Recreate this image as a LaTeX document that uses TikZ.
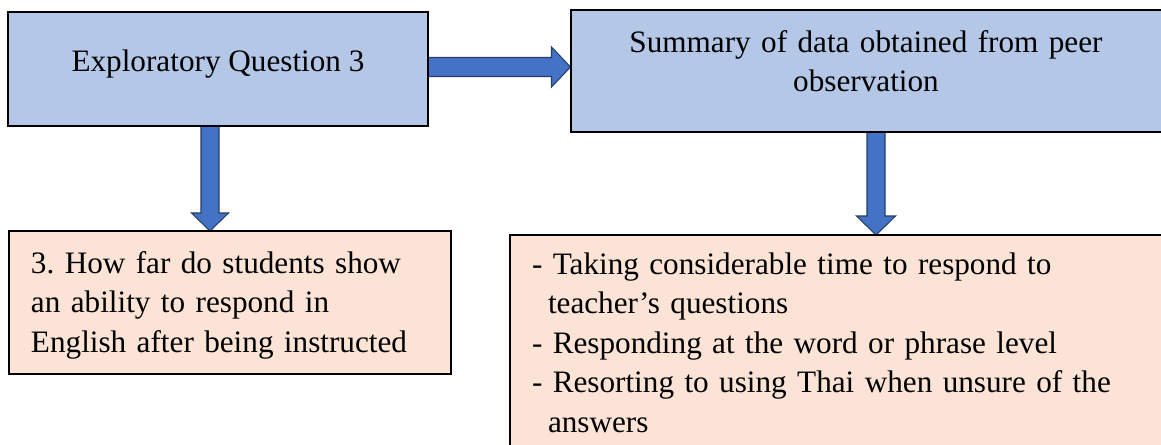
\documentclass[tikz,border=0pt]{standalone}
\usepackage{fontspec}
\setmainfont{Liberation Serif}
\usetikzlibrary{fit,calc,backgrounds}
\definecolor{boxblue}{HTML}{B4C7E7}
\definecolor{boxpeach}{HTML}{FBE3D6}
\definecolor{arrowfill}{HTML}{4472C4}
\definecolor{arrowline}{HTML}{233F6B}
\frenchspacing
\tikzset{
  box/.style={draw=black, line width=1.5pt, inner sep=0pt, outer sep=0pt},
  bluebox/.style={box, fill=boxblue},
  peachbox/.style={box, fill=boxpeach},
  labeltext/.style={font=\fontsize{23.4}{29.7}\selectfont, inner sep=0pt, outer sep=0pt},
  blockarrow/.style={fill=arrowfill, draw=arrowline, line width=0.8pt, line join=miter},
}
\begin{document}
\begin{tikzpicture}[x=0.75pt, y=-0.75pt]
  \path[use as bounding box] (0,0) rectangle (1161,444);
  \clip (0,0) rectangle (1161,444);

  % boxes
  \node[bluebox,  fit={(7.7,11.7) (428.3,126)}] (q) {};
  \node[bluebox,  fit={(570.5,10) (1175,132)}]  (s) {};
  \node[peachbox, fit={(8.5,231) (451,374)}]    (h) {};
  \node[peachbox, fit={(510,235) (1175,460)}]   (f) {};

  % texts
  \node[labeltext, anchor=base] (qtext) at (218,71) {Exploratory Question 3};
  \node[labeltext, anchor=base, text width=420pt, align=center] (stext) at (866,52)
    {Summary of data obtained from peer\\observation};
  \node[labeltext, anchor=base west, text width=420pt, align=left] (htext) at (31,273)
    {3. How far do students show\\an ability to respond in\\English after being instructed};
  \node[labeltext, anchor=base west, text width=480pt, align=left] (ftext) at (532,274)
    {- Taking considerable time to respond to\\
     \hspace*{12pt}teacher’s questions\\
     - Responding at the word or phrase level\\
     - Resorting to using Thai when unsure of the\\
     \hspace*{12pt}answers};

  % block arrows, drawn behind the boxes
  \begin{scope}[on background layer]
    % right arrow q -> s
    \coordinate (r0) at (q.east |- 0,67);
    \coordinate (r1) at (s.west |- 0,67);
    \draw[blockarrow] ($(r0)+(-2,-9.5)$) -- ($(r1)+(-19,-9.5)$) -- ($(r1)+(-19,-20)$)
      -- (r1) -- ($(r1)+(-19,20)$) -- ($(r1)+(-19,9.5)$) -- ($(r0)+(-2,9.5)$) -- cycle;
    % down arrow q -> h
    \coordinate (a0) at (q.south -| 210,0);
    \coordinate (a1) at (h.north -| 210,0);
    \draw[blockarrow] ($(a0)+(-9,-2)$) -- ($(a1)+(-9,-18)$) -- ($(a1)+(-18.5,-18)$)
      -- (a1) -- ($(a1)+(18.5,-18)$) -- ($(a1)+(9,-18)$) -- ($(a0)+(9,-2)$) -- cycle;
    % down arrow s -> f
    \coordinate (b0) at (s.south -| 876,0);
    \coordinate (b1) at (f.north -| 876,0);
    \draw[blockarrow] ($(b0)+(-9,-2)$) -- ($(b1)+(-9,-19)$) -- ($(b1)+(-19.5,-19)$)
      -- (b1) -- ($(b1)+(19.5,-19)$) -- ($(b1)+(9,-19)$) -- ($(b0)+(9,-2)$) -- cycle;
  \end{scope}
\end{tikzpicture}
\end{document}
